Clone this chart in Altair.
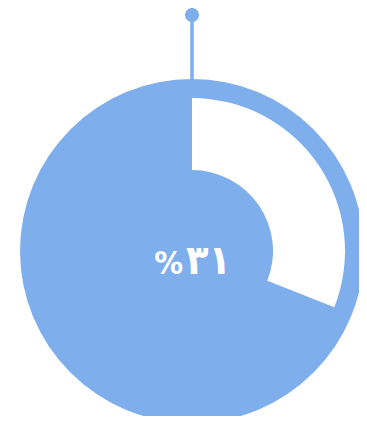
import altair as alt
import pandas as pd
import math

# data
percent_value = [31]
total_value = [100]
number_text = ["۳۱"]
percent_sign = ["%"]

BLUE = "#7FAEEC"

bg = pd.DataFrame({"start": [0], "end": total_value})
seg = pd.DataFrame({"start": [0], "end": percent_value})
num = pd.DataFrame({"label": number_text})
pct = pd.DataFrame({"label": percent_sign})
stem = pd.DataFrame({"k": [0]})

theta_scale = alt.Scale(domain=[0, total_value[0]], range=[0, 2 * math.pi])

CX, CY = 184, 243

background = alt.Chart(bg).mark_arc(radius=172, color=BLUE).encode(
    theta=alt.Theta("start:Q", scale=theta_scale),
    theta2="end:Q",
    x=alt.value(CX),
    y=alt.value(CY),
)

white = alt.Chart(seg).mark_arc(radius=153, radius2=81, color="white").encode(
    theta=alt.Theta("start:Q", scale=theta_scale),
    theta2="end:Q",
    x=alt.value(CX),
    y=alt.value(CY),
)

rule = alt.Chart(stem).mark_rule(color=BLUE, strokeWidth=3.5).encode(
    x=alt.value(CX),
    y=alt.value(7),
    y2=alt.value(74),
)

dot = alt.Chart(stem).mark_point(filled=True, color=BLUE, opacity=1, size=200, shape="circle").encode(
    x=alt.value(CX),
    y=alt.value(7),
)

num_text = alt.Chart(num).mark_text(
    color="white", fontSize=41, fontWeight="bold", font="DejaVu Sans Condensed, DejaVu Sans",
    baseline="alphabetic", align="left",
).encode(
    text="label:N",
    x=alt.value(178),
    y=alt.value(266),
)

pct_text = alt.Chart(pct).mark_text(
    color="white", fontSize=32, fontWeight="bold", font="DejaVu Sans Condensed, DejaVu Sans",
    baseline="alphabetic", align="right",
).encode(
    text="label:N",
    x=alt.value(175),
    y=alt.value(266),
)

chart = alt.layer(background, white, rule, dot, pct_text, num_text).properties(
    width=351, height=408, padding=0,
    autosize=alt.AutoSizeParams(type="none"),
).configure_view(stroke=None)

chart.save("out.html", embed_options={"renderer": "svg", "actions": False})
